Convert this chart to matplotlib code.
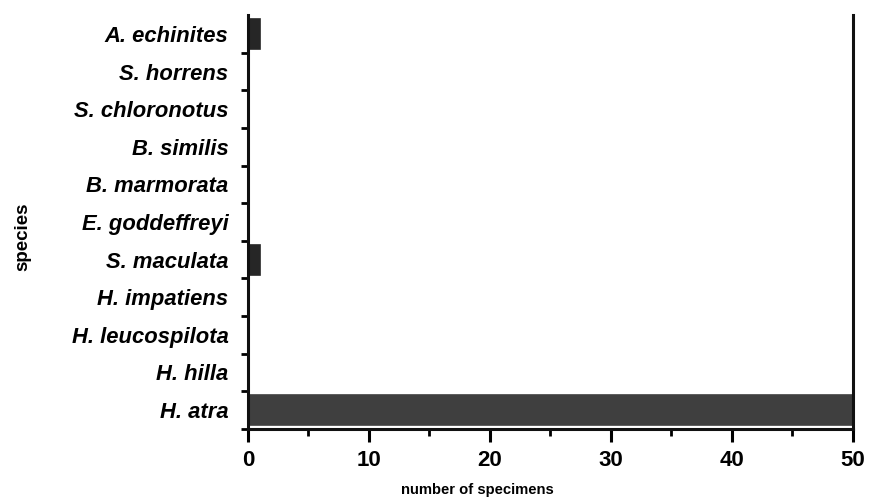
import numpy as np
import matplotlib
matplotlib.use("Agg")
from matplotlib import pyplot as plt
from matplotlib.ticker import MultipleLocator, FixedLocator

# species listed top to bottom as in the figure
species = ["A. echinites", "S. horrens", "S. chloronotus", "B. similis",
           "B. marmorata", "E. goddeffreyi", "S. maculata", "H. impatiens",
           "H. leucospilota", "H. hilla", "H. atra"]
counts = [1, 0, 0, 0, 0, 0, 1, 0, 0, 0, 50]
x_ticks = [0, 10, 20, 30, 40, 50]

fig = plt.figure(figsize=(8.73, 5.04), dpi=100)
ax = fig.add_axes([0.284, 0.149, 0.693, 0.821])

# bottom row = last species
ypos = np.arange(len(species))[::-1]
colors = ["#262626" if c < 50 else "#3f3f3f" for c in counts]
ax.barh(ypos, counts, height=0.8, color=colors, edgecolor=colors, linewidth=1.2)

ax.set_xlim(0, 50)
ax.set_ylim(-0.5, len(species) - 0.5)

ax.spines["top"].set_visible(False)
for s in ["left", "bottom", "right"]:
    ax.spines[s].set_linewidth(2.2)
    ax.spines[s].set_color("#111111")

# y: labels at centres, tick marks at the category boundaries
ax.set_yticks(ypos)
ax.set_yticklabels(species, fontstyle="italic", fontweight="bold",
                   fontsize=15.8, family=["Liberation Sans", "DejaVu Sans"])
ax.yaxis.set_minor_locator(FixedLocator(np.arange(-0.5, len(species) - 1, 1.0)))
ax.tick_params(axis="y", which="major", length=0, pad=14)
ax.tick_params(axis="y", which="minor", length=5, width=2, direction="out")

# x: bold numbers, minor ticks every 5
ax.set_xticks(x_ticks)
ax.set_xticklabels([str(v) for v in x_ticks], fontweight="bold", fontsize=16,
                   family=["Liberation Sans", "DejaVu Sans"])
ax.xaxis.set_minor_locator(MultipleLocator(5))
ax.tick_params(axis="x", which="major", length=9, width=2.2, direction="out", pad=6)
ax.tick_params(axis="x", which="minor", length=5, width=2, direction="out")

ax.text(0.379, -0.148, "number of specimens", transform=ax.transAxes,
        fontweight="bold", fontsize=10.6, ha="center", va="center",
        family=["Liberation Sans Narrow", "Liberation Sans", "DejaVu Sans"])
fig.text(0.026, 0.53, "species", rotation=90, fontweight="bold", fontsize=13.5,
         family=["Liberation Sans", "DejaVu Sans"], ha="center", va="center")

fig.savefig("out.png", dpi=100)
